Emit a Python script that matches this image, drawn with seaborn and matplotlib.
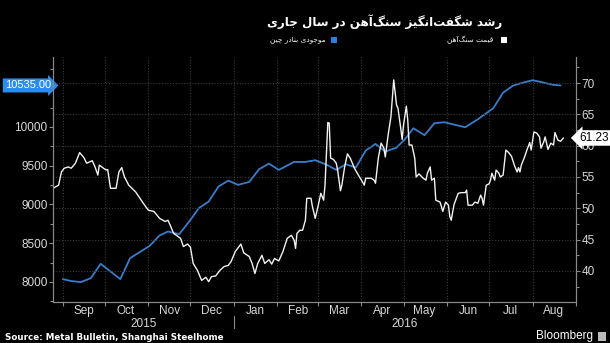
import pandas as pd
import matplotlib
matplotlib.use("Agg")
import matplotlib.pyplot as plt
import matplotlib.transforms as mtransforms
from matplotlib.patches import Rectangle
import matplotlib.dates as mdates
import seaborn as sns

# Data (day offsets counted from 2015-09-01)
start = pd.Timestamp("2015-09-01")

port_days = [0, 6, 13, 20, 27, 41, 48, 62, 69, 75, 83, 91, 97, 104, 111, 118, 125, 133,
             140, 147, 154, 165, 173, 180, 188, 195, 202, 209, 216, 223, 230, 238, 244,
             250, 258, 265, 272, 279, 287, 296, 307, 314, 321, 328, 335, 341, 349, 355]
port_stock = [8037, 8012, 7999, 8050, 8234, 8037, 8308, 8467, 8600, 8651, 8617, 8800,
              8952, 9037, 9231, 9308, 9253, 9291, 9455, 9527, 9446, 9549, 9549, 9571,
              9514, 9446, 9519, 9476, 9695, 9781, 9682, 9733, 9841, 9983, 9893, 10048,
              10061, 10030, 9996, 10099, 10241, 10442, 10532, 10571, 10602, 10580, 10545,
              10535]

ore_days = [-7, -3, -1, 1, 4, 6, 9, 12, 15, 17, 21, 23, 25, 26, 29, 31, 32, 34, 38, 40,
            42, 44, 47, 52, 55, 59, 61, 65, 69, 73, 75, 77, 79, 81, 84, 86, 89, 91, 93,
            96, 99, 102, 104, 106, 109, 112, 115, 118, 120, 123, 127, 129, 133, 135, 137,
            139, 142, 144, 147, 149, 151, 154, 157, 160, 163, 165, 166, 167, 169, 171,
            173, 174, 177, 178, 180, 182, 184, 186, 187, 189, 190, 191, 193, 195, 196,
            198, 199, 201, 203, 205, 208, 210, 213, 215, 216, 220, 222, 223, 225, 227,
            229, 230, 232, 234, 236, 238, 239, 241, 242, 243, 245, 246, 247, 249, 251,
            252, 254, 257, 259, 260, 262, 263, 265, 266, 269, 270, 271, 273, 275, 276,
            277, 279, 282, 284, 287, 288, 289, 292, 294, 296, 298, 299, 300, 302, 304,
            305, 306, 308, 309, 311, 312, 314, 316, 318, 320, 322, 324, 325, 326, 327,
            329, 331, 333, 334, 336, 338, 340, 341, 343, 344, 346, 348, 350, 351, 353,
            355, 357]
ore_price = [53.2, 53.7, 55.8, 56.4, 56.6, 56.4, 57.2, 58.9, 58.1, 57.2, 57.6, 56.6, 55.3,
             56.9, 56.4, 56.1, 56.2, 53.2, 53.2, 55.8, 56.5, 55.0, 53.7, 52.6, 51.6, 50.3,
             49.7, 49.5, 48.4, 47.9, 48.1, 47.1, 46.0, 45.7, 45.2, 43.9, 44.3, 43.8, 41.2,
             40.1, 38.5, 39.0, 38.3, 39.1, 39.2, 40.1, 40.7, 40.9, 41.5, 43.1, 44.3, 42.9,
             42.3, 41.2, 39.6, 41.2, 42.5, 41.2, 41.8, 41.1, 42.0, 41.6, 43.1, 45.2, 45.7,
             44.9, 43.6, 46.0, 46.5, 46.5, 48.1, 51.6, 51.6, 50.3, 48.4, 50.3, 52.4, 51.3,
             53.7, 63.7, 63.6, 58.0, 57.8, 57.2, 56.1, 52.8, 53.7, 56.6, 58.7, 58.0, 56.4,
             55.6, 54.5, 53.7, 54.8, 54.8, 54.5, 54.0, 58.0, 60.4, 59.6, 58.2, 61.7, 64.6,
             70.5, 66.5, 66.0, 62.8, 61.0, 63.3, 66.3, 64.1, 60.1, 60.1, 58.0, 55.0, 55.5,
             54.8, 54.5, 55.6, 56.6, 54.5, 54.8, 51.3, 51.0, 50.3, 49.5, 51.0, 50.5, 48.7,
             48.1, 50.6, 52.4, 52.5, 52.5, 52.9, 50.5, 50.5, 51.0, 50.8, 52.1, 51.6, 50.5,
             53.7, 53.9, 54.5, 55.6, 54.5, 56.1, 55.6, 55.0, 55.3, 59.3, 58.9, 58.3, 56.9,
             55.8, 56.5, 55.8, 56.9, 58.0, 59.3, 60.5, 59.3, 62.2, 62.0, 61.4, 59.6, 60.6,
             61.4, 59.4, 60.4, 60.1, 62.1, 60.9, 60.7, 61.23]

title = "رشد شگفت‌انگیز سنگ‌آهن در سال جاری"
label_ore = "قیمت سنگ‌آهن"
label_port = "موجودی بنادر چین"
source = "Source: Metal Bulletin, Shanghai Steelhome"

# matplotlib has no Arabic shaping, so pick presentation forms by hand
FORMS = {
    "ا": ("\uFE8D", "\uFE8E", None, None), "آ": ("\uFE81", "\uFE82", None, None),
    "د": ("\uFEA9", "\uFEAA", None, None), "ر": ("\uFEAD", "\uFEAE", None, None),
    "ز": ("\uFEAF", "\uFEB0", None, None), "و": ("\uFEED", "\uFEEE", None, None),
    "ب": ("\uFE8F", "\uFE90", "\uFE91", "\uFE92"), "ت": ("\uFE95", "\uFE96", "\uFE97", "\uFE98"),
    "ج": ("\uFE9D", "\uFE9E", "\uFE9F", "\uFEA0"), "س": ("\uFEB1", "\uFEB2", "\uFEB3", "\uFEB4"),
    "ش": ("\uFEB5", "\uFEB6", "\uFEB7", "\uFEB8"), "ف": ("\uFED1", "\uFED2", "\uFED3", "\uFED4"),
    "ق": ("\uFED5", "\uFED6", "\uFED7", "\uFED8"), "ل": ("\uFEDD", "\uFEDE", "\uFEDF", "\uFEE0"),
    "م": ("\uFEE1", "\uFEE2", "\uFEE3", "\uFEE4"), "ن": ("\uFEE5", "\uFEE6", "\uFEE7", "\uFEE8"),
    "ه": ("\uFEE9", "\uFEEA", "\uFEEB", "\uFEEC"), "چ": ("\uFB7A", "\uFB7B", "\uFB7C", "\uFB7D"),
    "گ": ("\uFB92", "\uFB93", "\uFB94", "\uFB95"), "ی": ("\uFBFC", "\uFBFD", "\uFBFE", "\uFBFF"),
}


def shape(s):
    out = []
    for i, c in enumerate(s):
        if c not in FORMS:
            if c != "\u200c":
                out.append(c)
            continue
        prev = s[i - 1] if i > 0 else ""
        nxt = s[i + 1] if i + 1 < len(s) else ""
        jp = prev in FORMS and FORMS[prev][2] is not None
        jn = FORMS[c][2] is not None and nxt in FORMS
        iso, fin, ini, med = FORMS[c]
        out.append(med if (jp and jn) else fin if jp else ini if jn else iso)
    return "".join(reversed(out))


sns.set_style("dark")
plt.rcParams["font.family"] = ["Liberation Sans", "DejaVu Sans"]

port = pd.DataFrame({"date": start + pd.to_timedelta(port_days, unit="D"), "value": port_stock})
ore = pd.DataFrame({"date": start + pd.to_timedelta(ore_days, unit="D"), "value": ore_price})

fig = plt.figure(figsize=(6.1, 3.43), dpi=100, facecolor="black")
ax = fig.add_axes([53 / 610, 41 / 343, 523 / 610, 245 / 343])
ax2 = ax.twinx()
ax.set_facecolor("black")
ax2.set_facecolor("none")

sns.lineplot(data=port, x="date", y="value", ax=ax, color="#3b7cc8", linewidth=1.3)
sns.lineplot(data=ore, x="date", y="value", ax=ax2, color="#f2f2f2", linewidth=1.0)

xmin, xmax = pd.Timestamp("2015-08-25"), pd.Timestamp("2016-09-01")
ax.set_xlim(xmin, xmax)
ax.set_ylim(7742, 10902)
ax2.set_ylim(35.05, 74.15)
ax.set_xlabel("")
ax.set_ylabel("")
ax2.set_ylabel("")

grey = "#8a8a8a"
for a in (ax, ax2):
    for side, sp in a.spines.items():
        sp.set_visible(side in ("left", "bottom", "right"))
        sp.set_color(grey)
        sp.set_linewidth(0.8)

ax.set_yticks([8000, 8500, 9000, 9500, 10000])
ax.set_yticks([7750, 8250, 8750, 9250, 9750, 10250, 10500, 10750], minor=True)
ax2.set_yticks([40, 45, 50, 55, 60, 65, 70])
ax2.set_yticks([37.5, 42.5, 47.5, 52.5, 57.5, 62.5, 67.5, 72.5], minor=True)
ax.tick_params(axis="y", which="both", colors=grey, labelcolor="#d8d8d8", labelsize=8.5,
               direction="out", length=3, width=0.8, pad=1, left=True)
ax.tick_params(axis="y", which="minor", length=2)
ax2.tick_params(axis="y", which="both", colors=grey, labelcolor="#d8d8d8", labelsize=8.5,
                direction="out", length=3, width=0.8, pad=1, right=True)
ax2.tick_params(axis="y", which="minor", length=2)

ax.xaxis.set_minor_locator(mdates.MonthLocator())
ax.xaxis.set_major_locator(mdates.MonthLocator(bymonthday=16))
ax.xaxis.set_major_formatter(mdates.DateFormatter("%b"))
ax.tick_params(axis="x", which="major", length=0, labelcolor="#d8d8d8", labelsize=8.5, pad=2.5)
ax.tick_params(axis="x", which="minor", length=3, colors=grey, width=0.8, bottom=True)

ax.grid(False)
ax2.grid(False)
ax.xaxis.grid(True, which="minor", color="#3a3a3a", linestyle=(0, (1, 1.5)), linewidth=0.8)
ax2.yaxis.grid(True, which="major", color="#3a3a3a", linestyle=(0, (1, 1.5)), linewidth=0.8)
ax2.set_axisbelow(True)

# year labels under the months
jan1 = pd.Timestamp("2016-01-01")
trans = mtransforms.blended_transform_factory(ax.transData, ax.transAxes)
ax.text(xmin + (jan1 - xmin) / 2, -0.088, "2015", transform=trans, ha="center", va="center",
        color="#d8d8d8", fontsize=8.5)
ax.text(jan1 + (xmax - jan1) / 2, -0.088, "2016", transform=trans, ha="center", va="center",
        color="#d8d8d8", fontsize=8.5)
ax.axvline(jan1, ymin=-0.057, ymax=-0.106, color=grey, linewidth=0.8, clip_on=False)

# last value tags
ax.text(-0.004, port_stock[-1], f"{port_stock[-1]:.2f}",
        transform=mtransforms.blended_transform_factory(ax.transAxes, ax.transData),
        ha="right", va="center", color="white", fontsize=8,
        bbox=dict(boxstyle="rarrow,pad=0.18", fc="#2b8df0", ec="none"))
ax2.text(1.006, ore_price[-1], f"{ore_price[-1]:.2f}",
         transform=mtransforms.blended_transform_factory(ax2.transAxes, ax2.transData),
         ha="left", va="center", color="black", fontsize=8.5, zorder=10,
         bbox=dict(boxstyle="larrow,pad=0.15", fc="white", ec="none"))

# title and legend (right to left)
fig.text(502 / 610, 1 - 22 / 343, shape(title), ha="right", va="center", color="white",
         fontsize=8.6, fontweight="bold", family=["DejaVu Sans"])
fig.text(493 / 610, 1 - 40 / 343, shape(label_ore), ha="right", va="center", color="white",
         fontsize=5.3, family=["DejaVu Sans"])
fig.text(326 / 610, 1 - 40 / 343, shape(label_port), ha="right", va="center", color="white",
         fontsize=5.3, family=["DejaVu Sans"])
fig.add_artist(Rectangle((501 / 610, 1 - 43 / 343), 6 / 610, 6 / 343,
                         transform=fig.transFigure, fc="white", ec="none"))
fig.add_artist(Rectangle((331 / 610, 1 - 43 / 343), 6 / 610, 6 / 343,
                         transform=fig.transFigure, fc="#2b7fe0", ec="none"))

fig.text(5 / 610, 1 - 337 / 343, source, ha="left", va="center", color="white",
         fontsize=6.3, fontweight="bold", family=["DejaVu Sans"])
fig.text(593 / 610, 1 - 336 / 343, "Bloomberg", ha="right", va="center", color="white",
         fontsize=8.5)
fig.add_artist(Rectangle((598 / 610, 1 - 341 / 343), 8 / 610, 9 / 343,
                         transform=fig.transFigure, fc="#bbbbbb", ec="none"))

fig.savefig("out.png", dpi=100, facecolor="black")
